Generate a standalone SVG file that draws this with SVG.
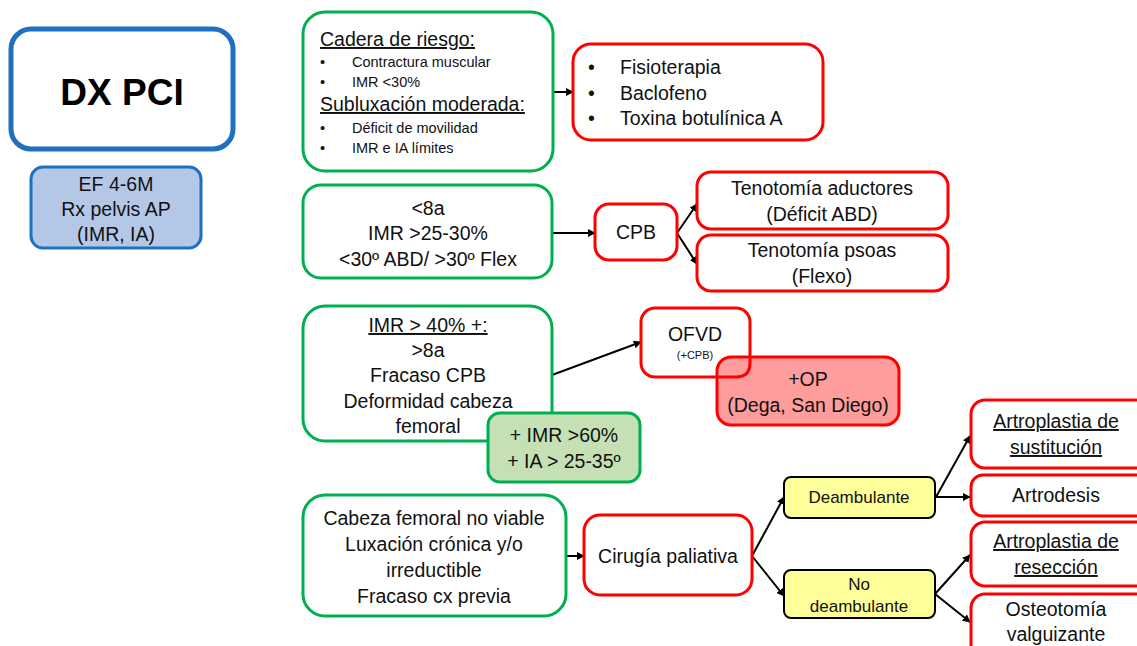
<svg xmlns="http://www.w3.org/2000/svg" width="1137" height="646" viewBox="0 0 1137 646">
<defs>
<style>
text{font-family:"Liberation Sans",Arial,sans-serif;fill:#111;}
.c{text-anchor:middle;font-size:19.5px;}
.m{font-size:19.5px;}
.s{font-size:14.5px;}
.g{fill:#fff;stroke:#00b050;stroke-width:3;}
.gf{fill:#c5e0b4;stroke:#00b050;stroke-width:3;}
.r{fill:#fff;stroke:#ff0000;stroke-width:3;}
.rf{fill:#ff9c9c;stroke:#ff0000;stroke-width:3;}
.y{fill:#ffff99;stroke:#000;stroke-width:2;}
.b{fill:#fff;stroke:#1f70c1;stroke-width:5;}
.bf{fill:#b4c7e7;stroke:#1f70c1;stroke-width:3;}
.u{text-decoration:underline;}
.ln{stroke:#000;stroke-width:2;fill:none;}
.yt{text-anchor:middle;font-size:17px;}
</style>
<marker id="ah" viewBox="0 0 10 10" refX="9" refY="5" markerWidth="4" markerHeight="4" orient="auto" markerUnits="strokeWidth">
<path d="M0,0 L10,5 L0,10 z" fill="#000"/>
</marker>
</defs>
<rect width="1137" height="646" fill="#fff"/>

<g id="dx">
<rect class="b" x="11" y="29" width="222" height="120" rx="20"/>
<text x="122" y="105" text-anchor="middle" style="font-size:37px;font-weight:bold;fill:#000">DX PCI</text>
</g>
<g id="ef">
<rect class="bf" x="31" y="167" width="170" height="81" rx="12"/>
<text class="c" x="116" y="191">EF 4-6M</text>
<text class="c" x="116" y="216">Rx pelvis AP</text>
<text class="c" x="116" y="241">(IMR, IA)</text>
</g>

<g id="connectors">
<line class="ln" x1="553" y1="92" x2="573" y2="92" marker-end="url(#ah)"/>
<line class="ln" x1="552" y1="233" x2="595" y2="233" marker-end="url(#ah)"/>
<line class="ln" x1="677" y1="233" x2="697" y2="204" marker-end="url(#ah)"/>
<line class="ln" x1="677" y1="233" x2="697" y2="264" marker-end="url(#ah)"/>
<line class="ln" x1="552" y1="375" x2="641" y2="342" marker-end="url(#ah)"/>
<line class="ln" x1="566" y1="556" x2="584" y2="556" marker-end="url(#ah)"/>
<line class="ln" x1="752" y1="556" x2="784" y2="497" marker-end="url(#ah)"/>
<line class="ln" x1="752" y1="556" x2="784" y2="596" marker-end="url(#ah)"/>
<line class="ln" x1="936" y1="497" x2="970" y2="436" marker-end="url(#ah)"/>
<line class="ln" x1="936" y1="497" x2="970" y2="497" marker-end="url(#ah)"/>
<line class="ln" x1="935" y1="594" x2="970" y2="555" marker-end="url(#ah)"/>
<line class="ln" x1="935" y1="594" x2="970" y2="622" marker-end="url(#ah)"/>
</g>

<g id="cadera">
<rect class="g" x="303" y="12" width="250" height="159" rx="22"/>
<text x="320" y="46" class="u m">Cadera de riesgo:</text>
<text class="s" x="320" y="67">•</text><text class="s" x="352" y="67">Contractura muscular</text>
<text class="s" x="320" y="87">•</text><text class="s" x="352" y="87">IMR &lt;30%</text>
<text x="320" y="111" class="u m">Subluxación moderada:</text>
<text class="s" x="320" y="133">•</text><text class="s" x="352" y="133">Déficit de movilidad</text>
<text class="s" x="320" y="153">•</text><text class="s" x="352" y="153">IMR e IA límites</text>
</g>
<g id="fisio">
<rect class="r" x="573" y="44" width="250" height="96" rx="18"/>
<text x="588" y="74" class="m">•</text><text x="620" y="74" class="m">Fisioterapia</text>
<text x="588" y="100" class="m">•</text><text x="620" y="100" class="m">Baclofeno</text>
<text x="588" y="125" class="m">•</text><text x="620" y="125" class="m">Toxina botulínica A</text>
</g>

<g id="menor8">
<rect class="g" x="303" y="185" width="249" height="93" rx="18"/>
<text class="c" x="428" y="215">&lt;8a</text>
<text class="c" x="428" y="240">IMR &gt;25-30%</text>
<text class="c" x="428" y="266">&lt;30º ABD/ &gt;30º Flex</text>
</g>
<g id="cpb">
<rect class="r" x="595" y="204" width="82" height="56" rx="14"/>
<text class="c" x="636" y="239">CPB</text>
</g>
<g id="tenad">
<rect class="r" x="697" y="172" width="251" height="57" rx="14"/>
<text class="c" x="822" y="195">Tenotomía aductores</text>
<text class="c" x="822" y="221">(Déficit ABD)</text>
</g>
<g id="tenps">
<rect class="r" x="697" y="235" width="251" height="56" rx="14"/>
<text class="c" x="822" y="257">Tenotomía psoas</text>
<text class="c" x="822" y="283">(Flexo)</text>
</g>

<g id="imr40">
<rect class="g" x="303" y="306" width="249" height="135" rx="22"/>
<text class="c u" x="428" y="332">IMR &gt; 40% +:</text>
<text class="c" x="428" y="357">&gt;8a</text>
<text class="c" x="428" y="382">Fracaso CPB</text>
<text class="c" x="428" y="408">Deformidad cabeza</text>
<text class="c" x="428" y="433">femoral</text>
</g>
<g id="imr60">
<rect class="gf" x="488" y="413" width="152" height="69" rx="12"/>
<text class="c" x="564" y="442">+ IMR &gt;60%</text>
<text class="c" x="564" y="468">+ IA &gt; 25-35º</text>
</g>
<g id="ofvd">
<rect class="r" x="641" y="308" width="109" height="69" rx="14"/>
<text class="c" x="695" y="341">OFVD</text>
<text x="695" y="359" text-anchor="middle" style="font-size:11px">(+CPB)</text>
</g>
<g id="op">
<rect class="rf" x="717" y="357" width="182" height="68" rx="14"/>
<path d="M717,377 L736,377 Q750,377 750,363 L750,357" fill="none" stroke="#ff0000" stroke-width="3"/>
<text class="c" x="808" y="386">+OP</text>
<text class="c" x="808" y="412">(Dega, San Diego)</text>
</g>

<g id="noviable">
<rect class="g" x="303" y="495" width="263" height="121" rx="22"/>
<text class="c" x="434" y="525">Cabeza femoral no viable</text>
<text class="c" x="434" y="551">Luxación crónica y/o</text>
<text class="c" x="434" y="577">irreductible</text>
<text class="c" x="434" y="603">Fracaso cx previa</text>
</g>
<g id="paliativa">
<rect class="r" x="584" y="515" width="168" height="80" rx="16"/>
<text class="c" x="668" y="563">Cirugía paliativa</text>
</g>
<g id="deamb">
<rect class="y" x="784" y="477" width="151" height="41" rx="7"/>
<text class="yt" x="859" y="503">Deambulante</text>
</g>
<g id="nodeamb">
<rect class="y" x="784" y="570" width="151" height="48" rx="7"/>
<text class="yt" x="859" y="590">No</text>
<text class="yt" x="859" y="612">deambulante</text>
</g>
<g id="sustitucion">
<rect class="r" x="971" y="400" width="180" height="68" rx="14"/>
<text class="c u" x="1056" y="428">Artroplastia de</text>
<text class="c u" x="1056" y="454">sustitución</text>
</g>
<g id="artrodesis">
<rect class="r" x="971" y="475" width="180" height="41" rx="12"/>
<text class="c" x="1056" y="502">Artrodesis</text>
</g>
<g id="reseccion">
<rect class="r" x="971" y="522" width="180" height="64" rx="14"/>
<text class="c u" x="1056" y="548">Artroplastia de</text>
<text class="c u" x="1056" y="574">resección</text>
</g>
<g id="osteotomia">
<rect class="r" x="971" y="594" width="180" height="66" rx="14"/>
<text class="c" x="1056" y="616">Osteotomía</text>
<text class="c" x="1056" y="641">valguizante</text>
</g>
</svg>
